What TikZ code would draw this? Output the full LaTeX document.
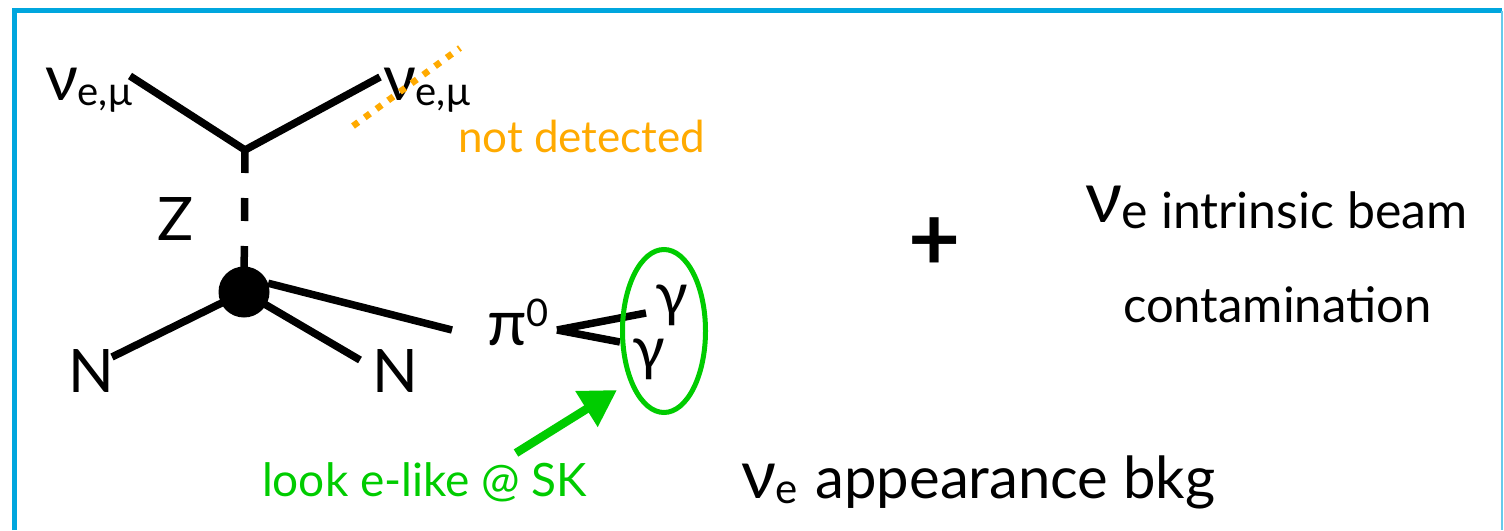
\documentclass[tikz,border=0pt]{standalone}
\usepackage{fontspec}
\setmainfont{Lato}
\usetikzlibrary{arrows.meta,shapes.geometric}
\definecolor{frameblue}{RGB}{0,166,222}
\definecolor{orng}{RGB}{255,170,0}
\definecolor{grn}{RGB}{0,204,0}
\newcommand{\fsz}[1]{\fontsize{#1}{#1}\selectfont}
\begin{document}
\begin{tikzpicture}[x=1pt,y=-1pt,
  txt/.style={inner sep=0pt, outer sep=0pt, anchor=base west},
  prop/.style={line width=7.5pt, black},
  blobstyle/.style={circle, fill=black, minimum size=51pt, inner sep=0pt},
  undetected/.style={orng, line width=6.5pt, dash pattern=on 6.5pt off 8pt},
  pointer/.style={grn, line width=8.5pt, -{Triangle[length=36pt,width=40pt]}},
]
\useasboundingbox (0,0) rectangle (1504,530);
% frame
\draw[frameblue, line width=4.5pt] (14.5,530) -- (14.5,10.5) -- (1502,10.5);
\draw[frameblue!60, line width=2pt] (1502,10.5) -- (1502,530);

% labels
\node[txt] (nuL) at (45,100) {\fsz{64}ν\raisebox{-5pt}{\fsz{40}e,μ}};
\node[txt] (nuR) at (383,100) {\fsz{64}ν\raisebox{-5pt}{\fsz{40}e,μ}};
\node[txt, text=orng] (nd) at (458,152) {\fsz{44}not detected};
\node[txt] (Z) at (157,240) {\fsz{60}Z};
\node[txt] (NL) at (68,392) {\fsz{60}N};
\node[txt] (NR) at (372,392) {\fsz{60}N};
\node[txt] (pi) at (487,345) {\fsz{64}π\raisebox{19pt}{\fsz{38}0}};
\node[txt] (g1) at (655,315) {\fsz{60}γ};
\node[txt] (g2) at (632,369) {\fsz{60}γ};
\node[txt, text=grn] (look) at (262,496) {\fsz{46}look e-like @ SK};
\node[txt] (app) at (741,498) {\fsz{68}ν\raisebox{-5pt}{\fsz{42}e} \fsz{58}appearance bkg};
\node[inner sep=0pt] (plus) at (935,244) {\fsz{90}\bfseries +};
\node[txt] (intr) at (1085,222) {\fsz{72}ν\raisebox{-6pt}{\fsz{50}e intrinsic beam}};
\node[txt] (cont) at (1123,322) {\fsz{49}contamination};

% vertices and ends
\coordinate (vtop) at (245,150);
\coordinate (nuLend) at (130,76);
\coordinate (nuRend) at (380,77);
\node[blobstyle] (blob) at (244,292) {};
\coordinate (nLend) at (112,357);
\coordinate (nRend) at (360,360);
\coordinate (piend) at (452,330);
\coordinate (pifork) at (557,330);
\coordinate (g1end) at (646,313);
\coordinate (g2end) at (620,342);
\coordinate (dotA) at (353,126);
\coordinate (dotB) at (460,48);
\coordinate (arrtail) at (516,453);
\coordinate (arrtip) at (617,390);

% lines
\draw[prop] (nuLend) -- (vtop) -- (nuRend);
\draw[prop, dash pattern=on 23pt off 25pt] (vtop) -- (blob.center);
\draw[prop] (blob.center) -- (nLend);
\draw[prop] (blob.center) -- (nRend);
\draw[prop] (blob.20) -- (piend);
\draw[prop] (pifork) -- (g1end);
\draw[prop] (pifork) -- (g2end);
\draw[undetected] (dotA) -- (dotB);

% ellipse and arrow
\node[draw=grn, line width=5pt, ellipse, minimum width=83pt, minimum height=163pt, inner sep=0pt] (ell) at (664,331) {};
\draw[pointer] (arrtail) -- (arrtip);
\end{tikzpicture}
\end{document}
